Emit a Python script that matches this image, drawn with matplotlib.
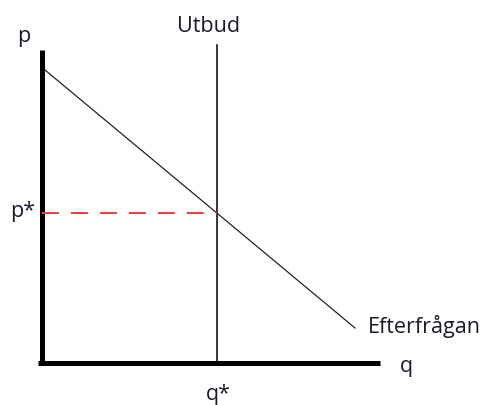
import matplotlib
matplotlib.use("Agg")
import matplotlib.pyplot as plt

# Data (units roughly pixels from the origin)
q_axis = [-4, 338]
p_axis = [0, 313]
demand_q = [3, 313]
demand_p = [293, 35]
q_star = 175
p_star = 150
supply_top = 318

plt.rcParams['font.family'] = ['Open Sans', 'DejaVu Sans']

fig = plt.figure(figsize=(4.89, 4.05), dpi=100)
ax = fig.add_axes([0, 0, 1, 1])
ax.set_xlim(-42, 447)
ax.set_ylim(-42, 363)
ax.axis('off')

# Axes
ax.plot([0, 0], p_axis, color='black', linewidth=3.6, solid_capstyle='butt')
ax.plot(q_axis, [0, 0], color='black', linewidth=3.6, solid_capstyle='butt')

# Supply (vertical) and demand
ax.plot([q_star, q_star], [0, supply_top], color='black', linewidth=1.1)
ax.plot(demand_q, demand_p, color='#222222', linewidth=0.9)

# Equilibrium price guide
ax.plot([0, q_star], [p_star, p_star], color='#f03c3c', linewidth=1.4,
        dashes=(8.7, 6.2))

# Labels
fs = 15.5
tc = '#1a1a2a'
ax.text(-18, 321, 'p', fontsize=fs, ha='center', va='baseline', color=tc)
ax.text(167, 331, 'Utbud', fontsize=fs, ha='center', va='baseline', color=tc)
ax.text(-19, 146, 'p*', fontsize=fs, ha='center', va='baseline', color=tc)
ax.text(364, -9, 'q', fontsize=fs, ha='center', va='baseline', color=tc)
ax.text(q_star + 1, -37, 'q*', fontsize=fs, ha='center', va='baseline', color=tc)
ax.text(326, 30, 'Efterfrågan', fontsize=fs, ha='left', va='baseline', color=tc)

fig.savefig('out.png', dpi=100)
